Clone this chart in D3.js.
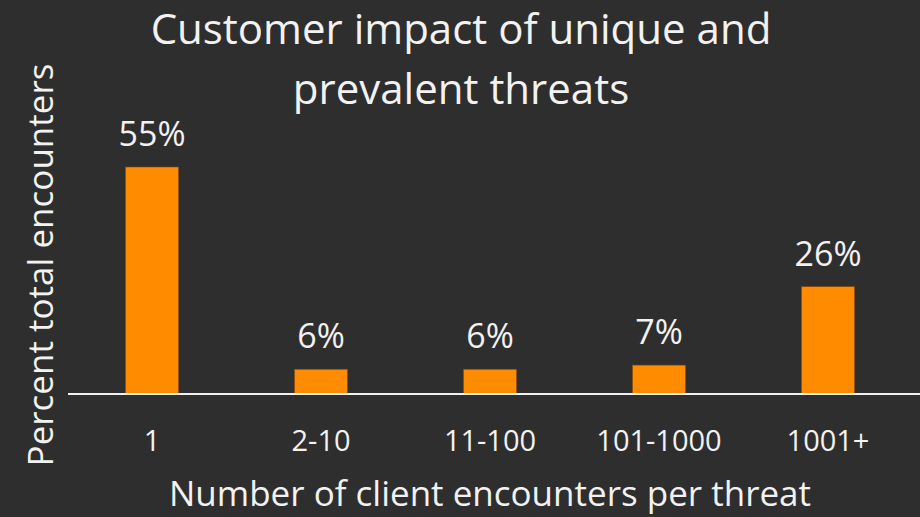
<!DOCTYPE html>
<html><head><meta charset="utf-8">
<script src="https://cdn.jsdelivr.net/npm/d3@7"></script>
<style>
html,body{margin:0;padding:0;background:#2e2e2e;}
text{font-family:"Open Sans","Noto Sans",sans-serif;fill:#f2f2f2;}
</style></head>
<body>
<svg id="c" width="920" height="517"></svg>
<script>
const categories = ["1","2-10","11-100","101-1000","1001+"];
const values = [55,6,6,7,26];
const valueLabels = ["55%","6%","6%","7%","26%"];
const titleLines = ["Customer impact of unique and","prevalent threats"];
const xTitle = "Number of client encounters per threat";
const yTitle = "Percent total encounters";

const svg = d3.select("#c");
svg.append("rect").attr("width",920).attr("height",517).attr("fill","#2e2e2e");

const x = d3.scaleBand().domain(categories).range([67.5,912.5]).paddingInner(0.686).paddingOuter(0.343);
const y = d3.scaleLinear().domain([0,55]).range([394,167]);

svg.selectAll("rect.bar").data(values).enter().append("rect")
  .attr("class","bar")
  .attr("x",(d,i)=>x(categories[i]))
  .attr("width",x.bandwidth())
  .attr("y",d=>y(d))
  .attr("height",d=>y(0)-y(d))
  .attr("fill","#ff8c00")
  .attr("stroke","#8a4a00").attr("stroke-width",0.6);

const xAxis = svg.append("g").attr("transform",`translate(0,${y(0)})`)
  .call(d3.axisBottom(x).tickSize(0).tickPadding(0));
xAxis.select(".domain").attr("stroke","#f0f0f0").attr("stroke-width",2)
  .attr("d","M68,0H920");
xAxis.selectAll("text").attr("font-size",29).attr("fill","#f2f2f2")
  .attr("y",57).attr("dy",0)
  .style("font-family",'"Open Sans","Noto Sans",sans-serif');

svg.selectAll("text.vl").data(values).enter().append("text")
  .attr("class","vl")
  .attr("x",(d,i)=>x(categories[i])+x.bandwidth()/2)
  .attr("y",d=>y(d)-21)
  .attr("text-anchor","middle").attr("font-size",34)
  .text((d,i)=>valueLabels[i]);

svg.selectAll("text.tl").data(titleLines).enter().append("text")
  .attr("class","tl")
  .attr("x",461).attr("y",(d,i)=>44+i*60)
  .attr("text-anchor","middle").attr("font-size",42)
  .text(d=>d);

svg.append("text").attr("x",490).attr("y",506).attr("text-anchor","middle")
  .attr("font-size",35).text(xTitle);

svg.append("text").attr("transform","translate(53,265) rotate(-90)")
  .attr("text-anchor","middle").attr("font-size",35).text(yTitle);
</script>
</body></html>
